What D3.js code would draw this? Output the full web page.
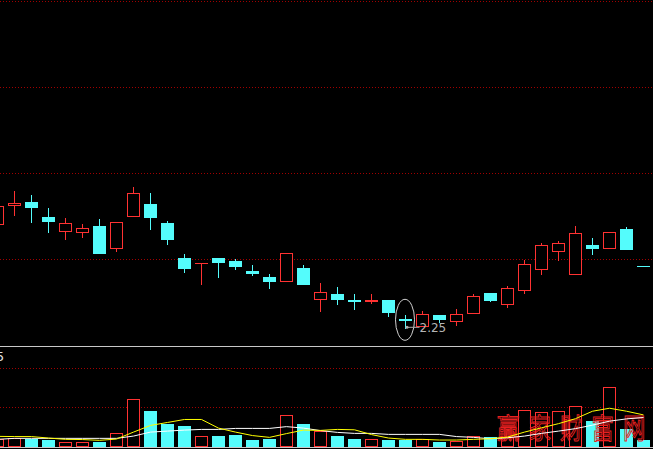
<!DOCTYPE html>
<html><head><meta charset="utf-8">
<script src="https://cdn.jsdelivr.net/npm/d3@7/dist/d3.min.js"></script>
<style>html,body{margin:0;padding:0;background:#000;overflow:hidden}</style>
</head><body>
<svg id="chart" width="653" height="449"></svg>
<script>
// ---- data ----
const opens  = [2.769,2.867,2.884,2.809,2.733,2.728,2.764,2.651,2.808,2.874,2.779,2.605,2.579,2.605,2.590,2.540,2.510,2.485,2.555,2.396,2.426,2.396,2.386,2.396,2.300,2.263,2.320,2.288,2.328,2.431,2.372,2.442,2.547,2.636,2.519,2.670,2.653,2.749,2.564];
const highs  = [2.864,2.939,2.919,2.854,2.804,2.774,2.799,2.784,2.960,2.929,2.789,2.625,2.579,2.605,2.600,2.570,2.525,2.630,2.570,2.480,2.461,2.426,2.426,2.396,2.320,2.341,2.320,2.351,2.426,2.431,2.466,2.598,2.680,2.688,2.764,2.705,2.733,2.761,2.564];
const lows   = [2.769,2.816,2.781,2.731,2.695,2.706,2.626,2.636,2.808,2.744,2.670,2.530,2.471,2.505,2.545,2.515,2.451,2.485,2.471,2.336,2.371,2.346,2.376,2.311,2.250,2.263,2.280,2.268,2.328,2.386,2.356,2.427,2.522,2.592,2.519,2.621,2.653,2.646,2.564];
const closes = [2.864,2.882,2.855,2.786,2.779,2.753,2.626,2.784,2.932,2.806,2.696,2.550,2.579,2.580,2.560,2.525,2.485,2.630,2.471,2.436,2.396,2.386,2.396,2.331,2.290,2.325,2.298,2.325,2.414,2.392,2.454,2.575,2.668,2.678,2.728,2.651,2.733,2.646,2.564];
const volumes = [1925,2325,2075,1750,1175,1175,1325,3425,12175,9000,5750,5250,2675,2750,3000,1750,2000,8175,5750,4000,2750,2000,2000,1750,1750,2000,1250,1500,2750,2500,2450,9250,8750,9000,10250,6500,15000,4575,1750];
const volMA5  = [2675,2625,2625,2250,1925,1875,1675,2000,3750,5425,6175,6925,6925,4750,3750,2875,2425,3375,4250,4175,4425,4325,3125,2250,1925,1925,1750,1750,1925,2075,2500,3750,4825,5875,7125,9000,9750,9000,8075];
const volMA10 = [1925,2175,2175,2175,2175,2175,2175,2175,2750,3750,4000,4250,4425,4425,4675,4675,4675,5125,4750,4125,3675,3425,3425,3175,3175,3175,3175,2625,2425,2075,2325,2750,3425,4000,4625,5500,6500,7075,7425];
const priceGrid = [2.60, 3.03, 3.46, 3.89];
const volGrid = [10000, 20000];
const lowLabel = "2.25";
const volLabel = "5";
const watermark = "赢家财富网";

// ---- setup ----
const RED = "#ff3232", CYAN = "#54fcfc", GRID = "#a00000";
const svg = d3.select("#chart");
svg.append("rect").attr("width",653).attr("height",449).attr("fill","#000");
const idx = d3.range(opens.length);
const x = d3.scalePoint().domain(idx).range([-2.5, 643.5]);
const y = d3.scaleLinear().domain([2.25, 3.89]).range([329.3, 0.5]);
const yv = d3.scaleLinear().domain([0, 20000]).range([447, 367.5]);
const half = 6.5;

function isUp(i){
  if (closes[i] > opens[i]) return true;
  if (closes[i] < opens[i]) return false;
  return i === 0 ? true : closes[i] >= closes[i-1];
}

// grid lines
svg.append("g").selectAll("line").data(priceGrid).join("line")
  .attr("x1",0).attr("x2",653)
  .attr("y1",d=>Math.round(y(d))+0.5).attr("y2",d=>Math.round(y(d))+0.5)
  .attr("stroke",GRID).attr("stroke-dasharray","1,2").attr("stroke-width",1);
svg.append("g").selectAll("line").data(volGrid).join("line")
  .attr("x1",0).attr("x2",653)
  .attr("y1",d=>Math.round(yv(d))+0.5).attr("y2",d=>Math.round(yv(d))+0.5)
  .attr("stroke",GRID).attr("stroke-dasharray","1,2").attr("stroke-width",1);

// candles
const cg = svg.append("g").attr("shape-rendering","crispEdges");
idx.forEach(i=>{
  const cx = x(i);
  const up = isUp(i);
  const col = up ? RED : CYAN;
  const top = Math.round(y(Math.max(opens[i],closes[i])));
  const bot = Math.round(y(Math.min(opens[i],closes[i])));
  const hi = Math.round(y(highs[i])), lo = Math.round(y(lows[i]));
  if (hi < top) cg.append("line").attr("x1",cx).attr("x2",cx).attr("y1",hi).attr("y2",top).attr("stroke",col);
  if (lo > bot) cg.append("line").attr("x1",cx).attr("x2",cx).attr("y1",bot).attr("y2",lo).attr("stroke",col);
  if (bot - top <= 2) {
    cg.append("rect").attr("x",cx-half).attr("y",top).attr("width",2*half)
      .attr("height",Math.max(1,bot-top)).attr("fill",col);
  } else if (up) {
    cg.append("rect").attr("x",cx-half+0.5).attr("y",top+0.5).attr("width",2*half-1)
      .attr("height",bot-top-1).attr("fill","#000").attr("stroke",col);
  } else {
    cg.append("rect").attr("x",cx-half).attr("y",top).attr("width",2*half)
      .attr("height",bot-top).attr("fill",col);
  }
});

// separator
svg.append("line").attr("x1",0).attr("x2",653).attr("y1",346.5).attr("y2",346.5)
  .attr("stroke","#c8c8c8").attr("stroke-width",1);
svg.append("line").attr("x1",0).attr("x2",653).attr("y1",447.5).attr("y2",447.5)
  .attr("stroke","#c8c8c8").attr("stroke-width",1);

// volume bars
const vg = svg.append("g").attr("shape-rendering","crispEdges");
idx.forEach(i=>{
  const cx = x(i);
  const up = isUp(i);
  const top = Math.round(yv(volumes[i]));
  const bot = 447;
  if (up) {
    vg.append("rect").attr("x",cx-half+0.5).attr("y",top+0.5).attr("width",2*half-1)
      .attr("height",bot-top-1).attr("fill","#000").attr("stroke",RED);
  } else {
    vg.append("rect").attr("x",cx-half).attr("y",top).attr("width",2*half)
      .attr("height",bot-top).attr("fill",CYAN);
  }
});

// watermark (one glyph per character)
svg.append("g").selectAll("text").data(Array.from(watermark)).join("text")
  .attr("transform",(d,i)=>`translate(${497 + i*31.5},439) scale(0.8,1)`)
  .text(d=>d)
  .attr("font-family","'Noto Sans CJK SC'").attr("font-size",28)
  .attr("fill","none").attr("stroke","#e82020").attr("stroke-width",1);

// MA lines
const line = d3.line().x((d,i)=>x(i)).y(d=>yv(d));
svg.append("path").datum(volMA10).attr("d",line).attr("fill","none").attr("stroke","#ffffff").attr("stroke-width",1);
svg.append("path").datum(volMA5).attr("d",line).attr("fill","none").attr("stroke","#ffff00").attr("stroke-width",1);

// volume label
svg.append("text").attr("x",4).attr("y",361).attr("text-anchor","end").text(volLabel)
  .attr("font-family","'DejaVu Sans Mono'").attr("font-size",13).attr("fill","#e0e0e0");

// low annotation
const li = lows.indexOf(d3.min(lows));
const ax = x(li), ay = y(lows[li]);
svg.append("ellipse").attr("cx",ax-0.5).attr("cy",ay-9.5).attr("rx",9.5).attr("ry",20.5)
  .attr("fill","none").attr("stroke","#d0d0d0").attr("stroke-width",1);
svg.append("line").attr("x1",ax+1.5).attr("x2",ax+14).attr("y1",ay-2).attr("y2",ay-2)
  .attr("stroke","#b0b0b0").attr("stroke-width",1);
svg.append("circle").attr("cx",ax+1.5).attr("cy",ay-2).attr("r",1.5).attr("fill","#b0b0b0");
svg.append("text").attr("x",ax+14).attr("y",ay+2.5).text(lowLabel)
  .attr("font-family","'DejaVu Sans'").attr("font-size",12).attr("fill","#b4b4b4");
</script>
</body></html>
